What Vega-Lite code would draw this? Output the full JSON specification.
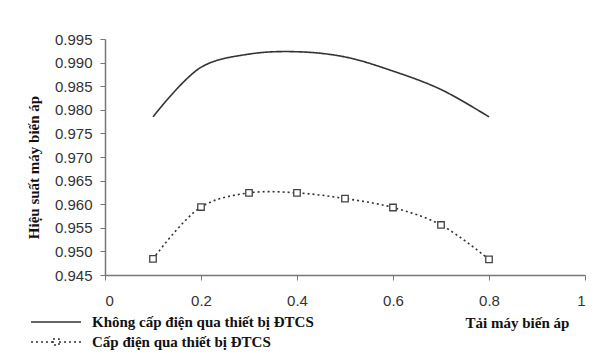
{
  "$schema": "https://vega.github.io/schema/vega-lite/v6.json",
  "width": 480,
  "height": 236,
  "autosize": "none",
  "padding": {"left": 105, "top": 39, "right": 11, "bottom": 81},
  "background": "white",
  "config": {"view": {"stroke": null}},
  "data": {
    "values": [
      {"tai": 0.1, "hs": 0.9785, "series": "Không cấp điện qua thiết bị ĐTCS"},
      {"tai": 0.2, "hs": 0.9890, "series": "Không cấp điện qua thiết bị ĐTCS"},
      {"tai": 0.3, "hs": 0.9918, "series": "Không cấp điện qua thiết bị ĐTCS"},
      {"tai": 0.4, "hs": 0.9923, "series": "Không cấp điện qua thiết bị ĐTCS"},
      {"tai": 0.5, "hs": 0.9912, "series": "Không cấp điện qua thiết bị ĐTCS"},
      {"tai": 0.6, "hs": 0.9882, "series": "Không cấp điện qua thiết bị ĐTCS"},
      {"tai": 0.7, "hs": 0.9843, "series": "Không cấp điện qua thiết bị ĐTCS"},
      {"tai": 0.8, "hs": 0.9785, "series": "Không cấp điện qua thiết bị ĐTCS"},
      {"tai": 0.1, "hs": 0.9484, "series": "Cấp điện qua thiết bị ĐTCS"},
      {"tai": 0.2, "hs": 0.9594, "series": "Cấp điện qua thiết bị ĐTCS"},
      {"tai": 0.3, "hs": 0.9624, "series": "Cấp điện qua thiết bị ĐTCS"},
      {"tai": 0.4, "hs": 0.9624, "series": "Cấp điện qua thiết bị ĐTCS"},
      {"tai": 0.5, "hs": 0.9612, "series": "Cấp điện qua thiết bị ĐTCS"},
      {"tai": 0.6, "hs": 0.9593, "series": "Cấp điện qua thiết bị ĐTCS"},
      {"tai": 0.7, "hs": 0.9556, "series": "Cấp điện qua thiết bị ĐTCS"},
      {"tai": 0.8, "hs": 0.9483, "series": "Cấp điện qua thiết bị ĐTCS"}
    ]
  },
  "encoding": {
    "x": {
      "field": "tai", "type": "quantitative",
      "scale": {"domain": [0, 1], "nice": false},
      "axis": {
        "values": [0, 0.2, 0.4, 0.6, 0.8, 1],
        "format": "~g",
        "grid": false,
        "title": "Tải máy biến áp",
        "titleFont": "Liberation Serif", "titleFontWeight": "bold", "titleFontSize": 15, "titleColor": "#111",
        "titleX": 412, "titleY": 47, "titleAlign": "center", "titleBaseline": "middle",
        "labelFont": "Liberation Sans", "labelFontSize": 15, "labelColor": "#333",
        "labelPadding": 13, "tickSize": 5,
        "domainColor": "#777", "tickColor": "#777", "domainWidth": 1.5
      }
    },
    "y": {
      "field": "hs", "type": "quantitative",
      "scale": {"domain": [0.945, 0.995], "nice": false, "zero": false},
      "axis": {
        "values": [0.945, 0.95, 0.955, 0.96, 0.965, 0.97, 0.975, 0.98, 0.985, 0.99, 0.995],
        "format": ".3f",
        "grid": false,
        "title": "Hiệu suất máy biến áp",
        "titleFont": "Liberation Serif", "titleFontWeight": "bold", "titleFontSize": 15, "titleColor": "#111",
        "titleX": -72, "titleY": 128, "titleAngle": -90, "titleAlign": "center", "titleBaseline": "middle",
        "labelFont": "Liberation Sans", "labelFontSize": 15, "labelColor": "#333",
        "labelPadding": 8, "tickSize": 5,
        "domainColor": "#777", "tickColor": "#777", "domainWidth": 1.5
      }
    }
  },
  "layer": [
    {
      "mark": {"type": "line", "interpolate": "catmull-rom", "color": "#333", "strokeWidth": 1.6},
      "encoding": {
        "strokeDash": {
          "field": "series", "type": "nominal",
          "scale": {
            "domain": ["Không cấp điện qua thiết bị ĐTCS", "Cấp điện qua thiết bị ĐTCS"],
            "range": [[1, 0], [2, 3]]
          },
          "legend": {
            "orient": "none", "legendX": -60, "legendY": 272, "title": null,
            "symbolType": "M-2.5,0H2.5", "symbolSize": 400, "symbolStrokeWidth": 1.5, "symbolStrokeColor": "#333",
            "labelFont": "Liberation Serif", "labelFontWeight": "bold", "labelFontSize": 15, "labelColor": "#111",
            "labelLimit": 0,
            "labelOffset": 25, "rowPadding": 1, "padding": 0,
            "encode": {
              "symbols": {
                "update": {
                  "shape": {"signal": "datum.value === 'Cấp điện qua thiết bị ĐTCS' ? 'M-2.5,0H-0.3M0.3,0H2.5M-0.3,-0.3H0.3V0.3H-0.3Z' : 'M-2.5,0H2.5'"}
                }
              }
            }
          }
        }
      }
    },
    {
      "transform": [{"filter": "datum.series === 'Cấp điện qua thiết bị ĐTCS'"}],
      "mark": {"type": "point", "shape": "square", "size": 42, "filled": false, "color": "#444", "fill": "white", "fillOpacity": 1, "strokeWidth": 1.3}
    }
  ]
}
